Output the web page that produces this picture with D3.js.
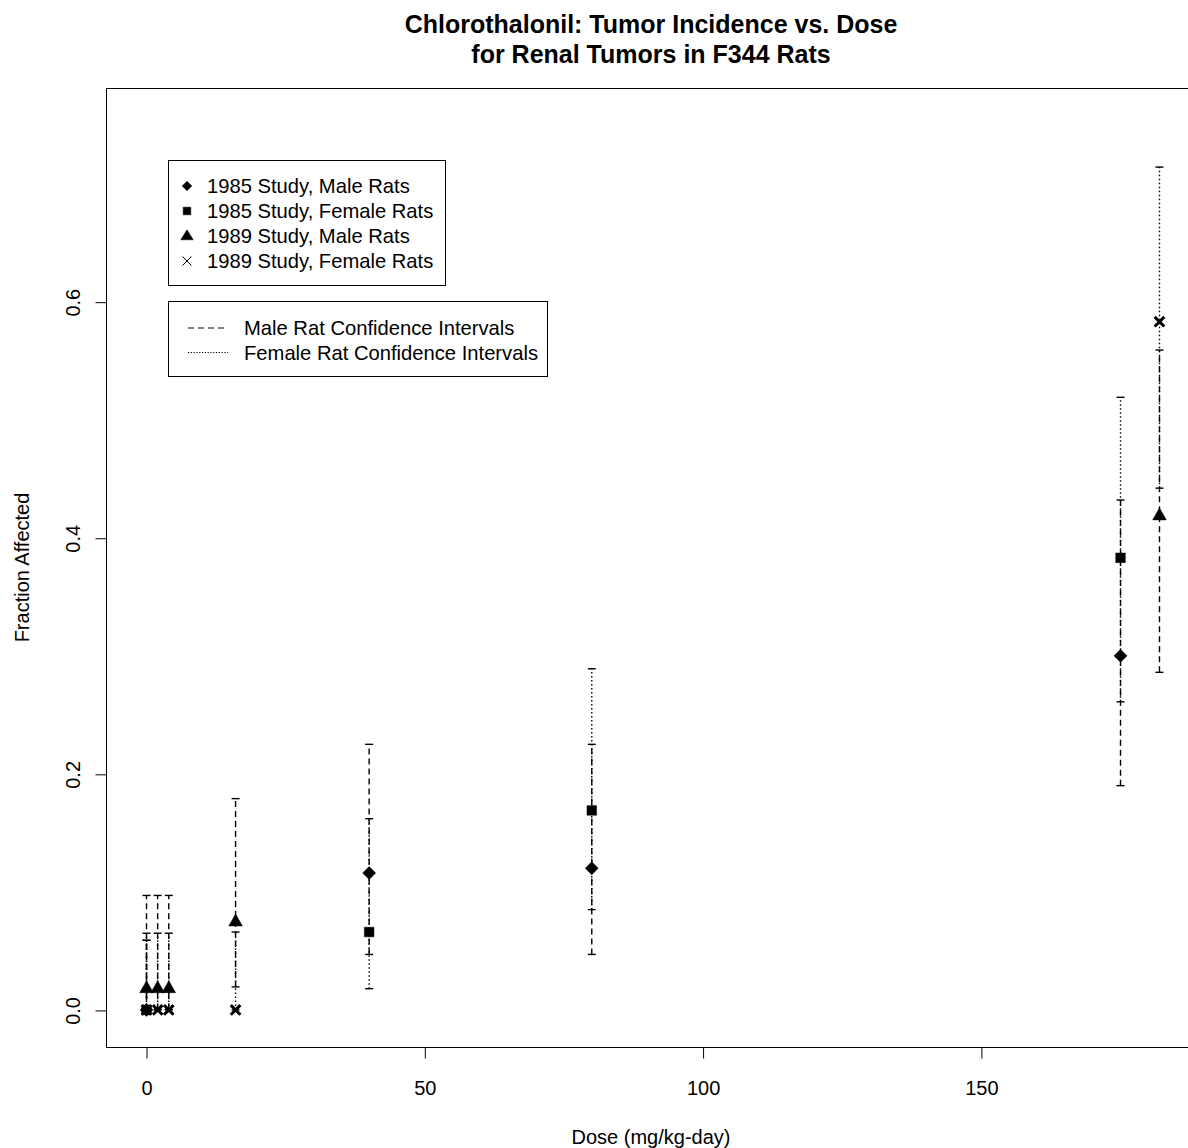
<!DOCTYPE html>
<html>
<head>
<meta charset="utf-8">
<script src="https://cdn.jsdelivr.net/npm/d3@7"></script>
<style>
  body { margin: 0; background: #fff; }
  svg { display: block; font-family: "Liberation Sans", Arial, sans-serif; }
</style>
</head>
<body>
<div id="chart"></div>
<script>
// Title and axis text
const titleLines = ["Chlorothalonil: Tumor Incidence vs. Dose", "for Renal Tumors in F344 Rats"];
const xLabel = "Dose (mg/kg-day)";
const yLabel = "Fraction Affected";
const xTicks = [0, 50, 100, 150];
const yTicks = [0, 0.2, 0.4, 0.6];

// 1985 study
const dose1985 = [0, 40, 80, 175];
const male1985 = [0, 0.116, 0.12, 0.30];
const male1985Lo = [0, 0.047, 0.047, 0.19];
const male1985Hi = [0.059, 0.225, 0.225, 0.432];
const female1985 = [0, 0.066, 0.169, 0.383];
const female1985Lo = [0, 0.018, 0.085, 0.261];
const female1985Hi = [0.059, 0.162, 0.289, 0.519];

// 1989 study
const dose1989 = [0, 2, 4, 16, 182];
const male1989 = [0.0185, 0.0185, 0.0185, 0.075, 0.419];
const male1989Lo = [0.0005, 0.0005, 0.0005, 0.0195, 0.286];
const male1989Hi = [0.097, 0.097, 0.097, 0.179, 0.559];
const female1989 = [0, 0, 0, 0, 0.583];
const female1989Lo = [0, 0, 0, 0, 0.442];
const female1989Hi = [0.065, 0.065, 0.065, 0.066, 0.714];

// Legend entries
const pointLegend = ["1985 Study, Male Rats", "1985 Study, Female Rats", "1989 Study, Male Rats", "1989 Study, Female Rats"];
const pointShapes = ["diamond", "square", "triangle", "cross"];
const lineLegend = ["Male Rat Confidence Intervals", "Female Rat Confidence Intervals"];

const width = 1188, height = 1148;
const box = { left: 106, right: 1200, top: 88, bottom: 1047 };
const DASH = "6,4", DOT = "1.5,2.5";

const series = [
  { x: dose1985, y: male1985, lo: male1985Lo, hi: male1985Hi, shape: "diamond", dash: DASH },
  { x: dose1985, y: female1985, lo: female1985Lo, hi: female1985Hi, shape: "square", dash: DOT },
  { x: dose1989, y: male1989, lo: male1989Lo, hi: male1989Hi, shape: "triangle", dash: DASH },
  { x: dose1989, y: female1989, lo: female1989Lo, hi: female1989Hi, shape: "cross", dash: DOT },
];

const svg = d3.select("#chart").append("svg")
  .attr("width", width).attr("height", height);

// Scales (R style 4% padding around xlim 0..182, ylim 0..0.75)
const x = d3.scaleLinear().domain([-7.28, 189.28]).range([box.left, box.right]);
const y = d3.scaleLinear().domain([-0.0314, 0.781]).range([box.bottom, box.top]);

// Marker path, centred at 0,0
function marker(shape, big) {
  const p = d3.path();
  if (shape === "diamond") {
    const r = big ? 6.5 : 4.8;
    p.moveTo(0, -r); p.lineTo(r, 0); p.lineTo(0, r); p.lineTo(-r, 0); p.closePath();
  } else if (shape === "square") {
    const r = big ? 4.8 : 3.8;
    p.rect(-r, -r, 2 * r, 2 * r);
  } else if (shape === "triangle") {
    const w = big ? 6.8 : 6.2, h = big ? 12 : 10;
    p.moveTo(0, -h * 0.62); p.lineTo(w, h * 0.38); p.lineTo(-w, h * 0.38); p.closePath();
  } else {
    const r = big ? 4.8 : 4.5;
    p.moveTo(-r, -r); p.lineTo(r, r); p.moveTo(r, -r); p.lineTo(-r, r);
  }
  return p.toString();
}

function drawMarker(sel, shape, big) {
  sel.append("path")
    .attr("d", marker(shape, big))
    .attr("fill", shape === "cross" ? "none" : "#000")
    .attr("stroke", "#000")
    .attr("stroke-width", shape === "cross" ? (big ? 3 : 1) : 0.5);
}

// Frame
svg.append("rect")
  .attr("x", box.left + 0.5).attr("y", box.top + 0.5)
  .attr("width", box.right - box.left).attr("height", box.bottom - box.top)
  .attr("fill", "none").attr("stroke", "#000").attr("stroke-width", 1);

// Axes
const xAxis = svg.append("g")
  .attr("transform", `translate(0,${box.bottom + 0.5})`)
  .call(d3.axisBottom(x).tickValues(xTicks).tickSize(11).tickPadding(22).tickFormat(d3.format("d")));
xAxis.select(".domain").remove();
xAxis.selectAll("text").attr("font-size", 20).attr("font-family", null).attr("fill", "#000");

const yAxis = svg.append("g")
  .attr("transform", `translate(${box.left + 0.5},0.5)`)
  .call(d3.axisLeft(y).tickValues(yTicks).tickSize(11).tickFormat(d3.format(".1f")));
yAxis.select(".domain").remove();
yAxis.selectAll("text")
  .attr("x", null).attr("dy", "0.35em")
  .attr("transform", "translate(-34,0) rotate(-90)")
  .attr("text-anchor", "middle")
  .attr("font-size", 20).attr("font-family", null).attr("fill", "#000");

// Title and axis labels
svg.append("g").selectAll("text").data(titleLines).join("text")
  .attr("x", (box.left + box.right) / 2 - 2)
  .attr("y", (d, i) => 33 + i * 30)
  .attr("text-anchor", "middle")
  .attr("font-size", 25).attr("font-weight", "bold")
  .text(d => d);

svg.append("text")
  .attr("x", (box.left + box.right) / 2 - 2).attr("y", 1144)
  .attr("text-anchor", "middle").attr("font-size", 20)
  .text(xLabel);

svg.append("text")
  .attr("transform", `translate(29,${(box.top + box.bottom) / 2}) rotate(-90)`)
  .attr("text-anchor", "middle").attr("font-size", 20)
  .text(yLabel);

// Confidence intervals
const plot = svg.append("g");
series.forEach(s => {
  const g = plot.append("g")
    .attr("stroke", "#000").attr("stroke-width", 1.4).attr("fill", "none");
  s.x.forEach((dx, i) => {
    const px = x(dx);
    g.append("line")
      .attr("x1", px).attr("x2", px)
      .attr("y1", y(s.lo[i])).attr("y2", y(s.hi[i]))
      .attr("stroke-dasharray", s.dash);
    [s.lo[i], s.hi[i]].forEach(v => {
      g.append("line")
        .attr("x1", px - 4).attr("x2", px + 4)
        .attr("y1", y(v)).attr("y2", y(v));
    });
  });
});

// Points
series.forEach(s => {
  s.x.forEach((dx, i) => {
    const g = plot.append("g").attr("transform", `translate(${x(dx)},${y(s.y[i])})`);
    drawMarker(g, s.shape, true);
  });
});

// Legend for points
const leg1 = svg.append("g");
leg1.append("rect")
  .attr("x", 168.5).attr("y", 160.5).attr("width", 277).attr("height", 125)
  .attr("fill", "#fff").attr("stroke", "#000");
pointLegend.forEach((label, i) => {
  const cy = 186 + i * 25;
  const g = leg1.append("g").attr("transform", `translate(187,${cy})`);
  drawMarker(g, pointShapes[i], false);
  leg1.append("text")
    .attr("x", 207).attr("y", cy + 7)
    .attr("font-size", 20.2).text(label);
});

// Legend for intervals
const leg2 = svg.append("g");
leg2.append("rect")
  .attr("x", 168.5).attr("y", 301.5).attr("width", 379).attr("height", 75)
  .attr("fill", "#fff").attr("stroke", "#000");
lineLegend.forEach((label, i) => {
  const cy = 328 + i * 24.5;
  leg2.append("line")
    .attr("x1", 188).attr("x2", 228).attr("y1", cy).attr("y2", cy)
    .attr("stroke", "#000").attr("stroke-width", 1)
    .attr("stroke-dasharray", i === 0 ? "6,4" : "1.2,1.6");
  leg2.append("text")
    .attr("x", 244).attr("y", cy + 7)
    .attr("font-size", 20.2).text(label);
});
</script>
</body>
</html>
